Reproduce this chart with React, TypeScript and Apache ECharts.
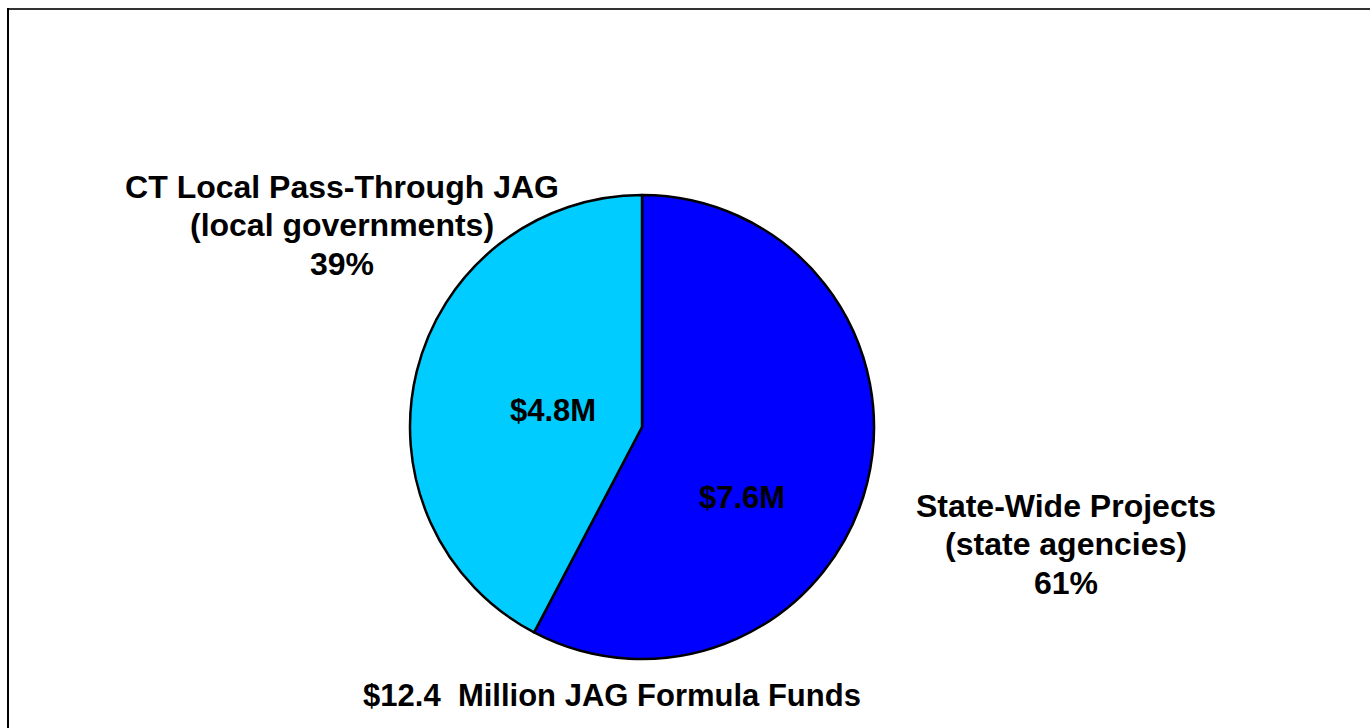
import React, { useEffect, useRef } from "react";
import * as echarts from "echarts";

const categories = ["State-Wide Projects\n(state agencies)", "CT Local Pass-Through JAG\n(local governments)"];
// amounts printed on the slices ($ million)
const amountsM = [7.6, 4.8];
// percentages printed beside the slices
const percentLabels = [61, 39];
// slice sizes as drawn in the picture (share of the circle, %)
const sliceShares = [57.7, 42.3];
const colors = ["#0000FF", "#00CCFF"];

const FONT = "'Liberation Sans', Arial, Helvetica, sans-serif";
const FS = 31;
const FS_OUT = 32;

// label placement (pixel positions of label centres)
const outerLabelPos = [
  [1066, 544],
  [342, 225],
];
const innerLabelPos = [
  [742, 497],
  [553, 410],
];

export default function App() {
  const ref = useRef<HTMLDivElement>(null);
  useEffect(() => {
    if (!ref.current) return;
    const chart = echarts.init(ref.current, null, { renderer: "svg" });
    const total = amountsM.reduce((a, b) => a + b, 0);
    const data = categories.map((c, i) => ({
      name: c,
      value: sliceShares[i],
      itemStyle: { color: colors[i] },
    }));
    const center = [642, 427];
    const radius = 232;
    chart.setOption({
      animation: false,
      backgroundColor: "#ffffff",
      graphic: [
        {
          type: "line",
          shape: { x1: 7, y1: 9, x2: 1370, y2: 9 },
          style: { stroke: "#333333", lineWidth: 2 },
        },
        {
          type: "line",
          shape: { x1: 8, y1: 8, x2: 8, y2: 728 },
          style: { stroke: "#000000", lineWidth: 2 },
        },
        {
          type: "text",
          x: 612,
          y: 695,
          style: {
            text: "$" + total.toFixed(1) + "  Million JAG Formula Funds",
            font: `bold ${FS}px ${FONT}`,
            fill: "#000",
            textAlign: "center",
            textVerticalAlign: "middle",
          },
        },
      ],
      series: [
        {
          type: "pie",
          center,
          radius,
          startAngle: 90,
          clockwise: true,
          data,
          itemStyle: { borderColor: "#000", borderWidth: 2.5 },
          emphasis: { disabled: true },
          labelLine: { show: false },
          label: {
            show: true,
            position: "inside",
            overflow: "none",
            formatter: (p: any) => `${p.name}\n${percentLabels[p.dataIndex]}%`,
            fontFamily: FONT,
            fontSize: FS_OUT,
            fontWeight: "bold",
            color: "#000",
            lineHeight: 38.5,
            align: "center",
          },
          labelLayout: (p: any) => ({
            x: outerLabelPos[p.dataIndex][0],
            y: outerLabelPos[p.dataIndex][1],
            align: "center",
            verticalAlign: "middle",
          }),
        },
        {
          type: "pie",
          center,
          radius,
          startAngle: 90,
          clockwise: true,
          silent: true,
          data: data.map((d) => ({ ...d, itemStyle: { color: "transparent" } })),
          itemStyle: { borderWidth: 0 },
          emphasis: { disabled: true },
          labelLine: { show: false },
          label: {
            show: true,
            position: "inside",
            formatter: (p: any) => `$${amountsM[p.dataIndex].toFixed(1)}M`,
            fontFamily: FONT,
            fontSize: FS,
            fontWeight: "bold",
            color: "#000",
          },
          labelLayout: (p: any) => ({
            x: innerLabelPos[p.dataIndex][0],
            y: innerLabelPos[p.dataIndex][1],
            align: "center",
            verticalAlign: "middle",
          }),
        },
      ],
    });
    return () => chart.dispose();
  }, []);
  return (
    <div
      ref={ref}
      style={{ position: "fixed", left: 0, top: 0, width: 1370, height: 728 }}
    />
  );
}
